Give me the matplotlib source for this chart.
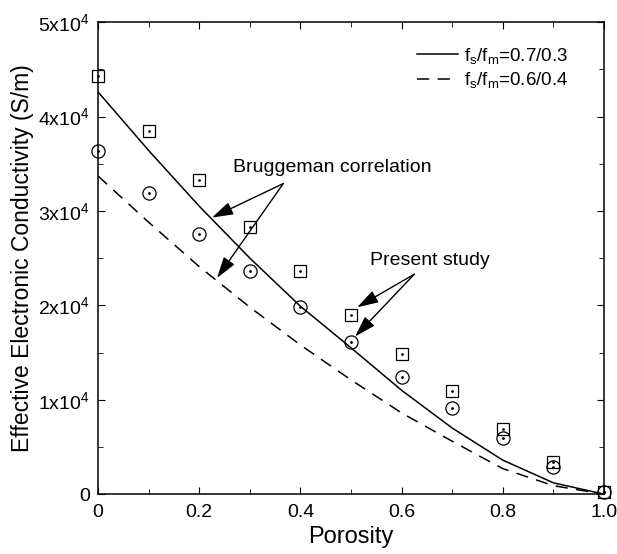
import matplotlib.pyplot as plt
import numpy as np

plt.rcParams['font.family'] = ['Liberation Sans', 'DejaVu Sans']
plt.rcParams['mathtext.fontset'] = 'custom'
plt.rcParams['mathtext.rm'] = 'Liberation Sans'
plt.rcParams['mathtext.it'] = 'Liberation Sans'

porosity = [0.0, 0.1, 0.2, 0.3, 0.4, 0.5, 0.6, 0.7, 0.8, 0.9, 1.0]

# Bruggeman correlation (S/m)
brug_07 = [4.26e4, 3.64e4, 3.05e4, 2.50e4, 1.99e4, 1.55e4, 1.10e4, 0.70e4, 0.36e4, 0.12e4, 0.0]
brug_06 = [3.37e4, 2.88e4, 2.41e4, 1.98e4, 1.58e4, 1.21e4, 0.86e4, 0.56e4, 0.27e4, 0.09e4, 0.0]

# present study
study_07 = [4.43e4, 3.85e4, 3.33e4, 2.83e4, 2.36e4, 1.90e4, 1.49e4, 1.09e4, 0.69e4, 0.34e4, 0.02e4]
study_06 = [3.63e4, 3.19e4, 2.76e4, 2.36e4, 1.98e4, 1.61e4, 1.24e4, 0.91e4, 0.60e4, 0.29e4, 0.02e4]

yticks = [0, 1e4, 2e4, 3e4, 4e4, 5e4]
ylabels = ['0', r'$\mathregular{1x10^4}$', r'$\mathregular{2x10^4}$', r'$\mathregular{3x10^4}$',
           r'$\mathregular{4x10^4}$', r'$\mathregular{5x10^4}$']

fig = plt.figure(figsize=(6.17, 5.54), dpi=100)
ax = fig.add_axes([0.159, 0.108, 0.820, 0.852])

ax.plot(porosity, brug_07, 'k-', lw=1.1, label=r'$\mathregular{f_s/f_m}$=0.7/0.3')
ax.plot(porosity, brug_06, 'k--', lw=1.1, dashes=(8, 5.5), label=r'$\mathregular{f_s/f_m}$=0.6/0.4')

ax.plot(porosity, study_07, ls='none', marker='s', ms=8.5, mfc='none', mec='k', mew=0.9, clip_on=False)
ax.plot(porosity, study_06, ls='none', marker='o', ms=9.5, mfc='none', mec='k', mew=0.9, clip_on=False)
ax.plot(porosity, study_07, ls='none', marker='o', ms=1, color='k', clip_on=False)
ax.plot(porosity, study_06, ls='none', marker='o', ms=1, color='k', clip_on=False)

arrow = dict(arrowstyle='-|>,head_length=1.3,head_width=0.4', color='k', lw=1, shrinkA=0, shrinkB=0)
ax.annotate('', xy=(0.225, 2.93e4), xytext=(0.366, 3.29e4), arrowprops=arrow)
ax.annotate('', xy=(0.235, 2.29e4), xytext=(0.366, 3.29e4), arrowprops=arrow)
ax.text(0.267, 3.46e4, 'Bruggeman correlation', fontsize=14, va='center')

ax.annotate('', xy=(0.512, 1.98e4), xytext=(0.625, 2.33e4), arrowprops=arrow)
ax.annotate('', xy=(0.508, 1.67e4), xytext=(0.625, 2.33e4), arrowprops=arrow)
ax.text(0.538, 2.48e4, 'Present study', fontsize=14, va='center')

ax.set_xlim(0, 1.0)
ax.set_ylim(0, 5e4)
ax.set_xticks([0, 0.2, 0.4, 0.6, 0.8, 1.0])
ax.set_xticklabels(['0', '0.2', '0.4', '0.6', '0.8', '1.0'])
ax.set_xticks(np.arange(0.1, 1.0, 0.2), minor=True)
ax.set_yticks(yticks)
ax.set_yticklabels(ylabels)
ax.set_yticks(np.arange(0.5e4, 5e4, 1e4), minor=True)
ax.tick_params(which='both', direction='in', top=True, right=True, labelsize=14)
ax.tick_params(axis='x', pad=7)
ax.tick_params(axis='y', pad=6)
ax.tick_params(which='major', length=5)
ax.tick_params(which='minor', length=3.5)
for s in ax.spines.values():
    s.set_linewidth(1.1)

ax.set_xlabel('Porosity', fontsize=17, labelpad=4)
ax.set_ylabel('Effective Electronic Conductivity (S/m)', fontsize=16.5, labelpad=3)

ax.legend(loc='upper left', frameon=False, fontsize=13.5, handlelength=2.2,
          bbox_to_anchor=(0.630, 0.950), borderpad=0, borderaxespad=0,
          handletextpad=0.3, labelspacing=0.25)

fig.savefig('out.png', dpi=100)
